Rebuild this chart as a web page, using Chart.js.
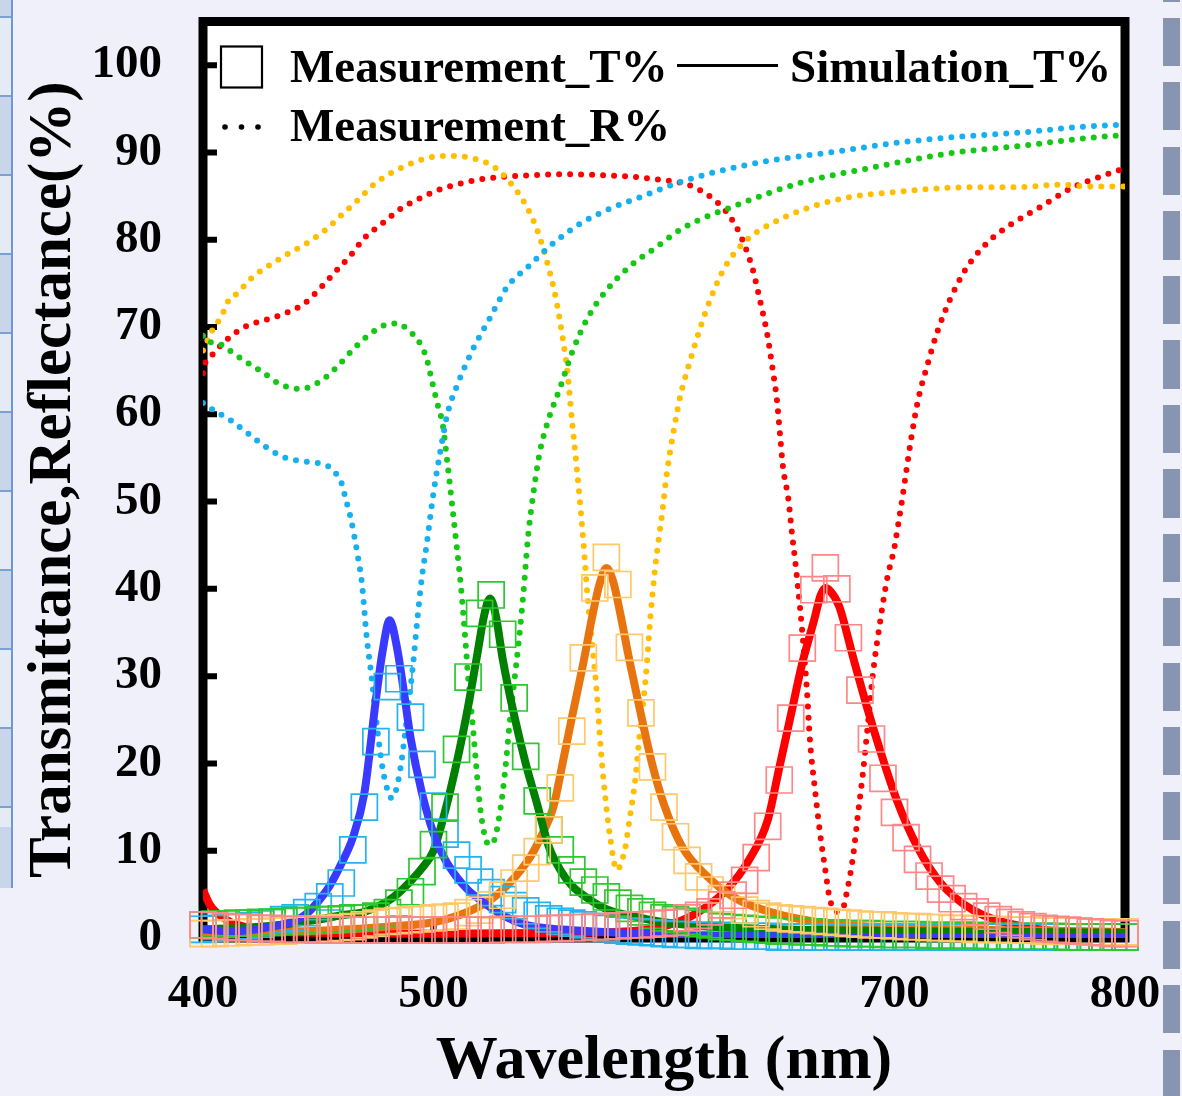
<!DOCTYPE html>
<html>
<head>
<meta charset="utf-8">
<script src="https://cdn.jsdelivr.net/npm/chart.js@4/dist/chart.umd.min.js"></script>
<style>
html,body{margin:0;padding:0;background:#f0f0fa;overflow:hidden;}
#wrap{position:absolute;left:0;top:0;width:1182px;height:1096px;}
#leftdeco{position:absolute;left:0;top:0;width:11px;height:888px;border-right:2px solid #6f98cf;
  background:repeating-linear-gradient(to bottom,#c9d5ea 0 77px,#7aa0d4 77px 79px,#e5ebf6 79px 156px,#7aa0d4 156px 158px);
  background-position:0 -61px;}
#rightdeco{position:absolute;left:1163px;top:0;width:17px;height:1096px;
  background:repeating-linear-gradient(to bottom,#8795b1 0 48px,transparent 48px 64.5px);
  background-position:0 18px;}
</style>
</head>
<body>
<div id="leftdeco"></div>
<div id="rightdeco"></div>
<div id="wrap"><canvas id="c"></canvas></div>
<script>
// ---------- Measured transmittance (squares), 5 nm grid ----------
const measWl = [400,405,410,415,420,425,430,435,440,445,
  450,455,460,465,470,475,480,485,490,495,
  500,505,510,515,520,525,530,535,540,545,
  550,555,560,565,570,575,580,585,590,595,
  600,605,610,615,620,625,630,635,640,645,
  650,655,660,665,670,675,680,685,690,695,
  700,705,710,715,720,725,730,735,740,745,
  750,755,760,765,770,775,780,785,790,795,
  800];
const measBlue = [1.0,1.1,1.2,1.3,1.4,1.6,1.8,2.1,2.3,2.9,
  3.6,4.7,6.3,10.1,15.0,22.5,28.8,29.7,25.3,19.9,
  15.1,11.9,9.5,7.8,6.4,5.2,4.4,3.7,3.1,2.6,
  2.2,1.9,1.7,1.5,1.3,1.1,0.9,0.8,0.7,0.6,
  0.5,0.4,0.4,0.3,0.3,0.3,0.2,0.2,0.2,0.2,
  0.1,0.1,0.1,0.1,0.1,0.1,0.1,0.1,0.1,0.1,
  0.1,0.1,0.1,0.1,0.1,0.1,0.1,0.1,0.1,0.1,
  0.1,0.1,0.1,0.1,0.1,0.1,0.1,0.1,0.1,0.1,
  0.1];
const measGreen = [1.5,1.6,1.6,1.7,1.7,1.8,1.8,1.9,2.0,2.0,
  2.1,2.1,2.2,2.3,2.3,2.5,2.9,4.0,5.3,7.6,
  10.7,15.0,21.6,29.9,37.2,39.3,34.8,27.5,20.8,15.7,
  12.4,10.1,7.8,6.4,5.5,4.7,4.0,3.4,3.0,2.6,
  2.3,2.1,1.9,1.7,1.5,1.3,1.2,1.1,1.0,0.9,
  0.8,0.8,0.7,0.7,0.6,0.6,0.5,0.5,0.5,0.4,
  0.4,0.4,0.4,0.3,0.3,0.3,0.3,0.3,0.2,0.2,
  0.2,0.2,0.2,0.2,0.2,0.1,0.1,0.1,0.1,0.1,
  0.1];
const measOrange = [0.5,0.5,0.6,0.6,0.7,0.7,0.8,0.8,0.9,1.0,
  1.0,1.1,1.2,1.3,1.5,1.7,1.9,2.0,2.1,2.2,
  2.3,2.4,2.5,2.9,3.2,3.8,4.9,6.3,8.0,9.9,
  12.4,17.2,23.7,32.1,40.1,43.6,40.5,33.3,25.8,19.6,
  15.0,11.6,8.9,7.0,5.5,4.5,3.7,3.2,2.8,2.5,
  2.3,2.2,2.1,2.0,1.9,1.8,1.7,1.6,1.5,1.5,
  1.4,1.3,1.3,1.2,1.2,1.1,1.1,1.0,1.0,1.0,
  0.9,0.9,0.9,0.8,0.8,0.8,0.8,0.7,0.7,0.7,
  0.7];
const measRed = [1.5,1.4,1.3,1.2,1.2,1.1,1.1,1.0,1.0,1.0,
  0.9,0.9,0.9,0.9,0.9,0.9,0.9,0.9,0.9,0.9,
  0.9,0.9,0.9,0.9,0.9,0.9,1.0,1.0,1.0,1.0,
  1.1,1.1,1.2,1.2,1.3,1.3,1.4,1.5,1.5,1.6,
  1.7,1.8,2.3,2.6,3.0,3.8,4.9,6.6,9.2,12.8,
  18.1,25.2,33.2,39.9,42.4,40.0,34.4,28.4,22.8,18.3,
  14.4,11.5,9.0,7.1,5.6,4.5,3.6,3.0,2.5,2.1,
  1.8,1.5,1.3,1.1,1.0,0.9,0.8,0.7,0.6,0.5,
  0.5];

// ---------- Simulated transmittance (solid lines) ----------
const simBlueWl = [400,410,420,430,440,445,450,455,460,465,470,475,478,481,484,487,490,495,500,505,510,515,520,530,540,550,560,580,600,650,700,800];
const simBlue   = [1.0,0.8,0.9,1.3,2.0,2.8,4.2,6.0,8.5,11.5,16.6,27.3,33.0,36.4,33.5,28.5,23.0,16.6,12.0,9.0,7.0,5.5,4.4,2.6,1.5,1.1,0.9,0.6,0.4,0.2,0.1,0.1];
const simGreenWl = [400,420,440,450,460,470,480,485,490,495,500,505,510,515,519,522,524.5,527,530,535,540,545,550,555,560,565,575,590,600,620,650,700,750,800];
const simGreen   = [1.0,1.2,1.7,2.1,2.6,3.0,4.2,5.2,6.5,8.0,10.0,14.5,20.0,26.5,32.5,37.0,38.9,37.0,32.0,25.5,20.0,15.3,10.5,7.8,6.0,4.9,3.3,2.3,1.8,1.3,1.0,0.8,0.7,0.6];
const simOrangeWl = [400,430,455,480,500,515,525,533,542,547,552,556,560,565,569,572,575,578,581,585,590,595,600,608,619,630,647,670,700,750,800];
const simOrange   = [0.6,0.7,0.9,1.3,1.8,3.0,4.4,6.3,9.3,11.8,15.0,20.0,25.2,31.5,37.0,40.5,42.4,40.8,37.2,31.8,25.6,19.8,15.3,10.4,7.0,4.7,2.9,1.7,1.2,0.9,0.7];
const simRedWl = [400,403,406,410,415,425,450,500,560,590,611,627,637,645,650,655,660,665,668,670,672,676,682,688,694,701,710,720,734,756,780,800];
const simRed   = [5.5,3.8,2.9,2.1,1.5,0.9,0.6,0.5,0.6,0.9,2.4,5.5,9.0,13.5,19.5,25.5,31.5,36.3,39.3,40.1,39.8,38.0,32.2,26.5,21.3,15.8,10.4,6.3,3.2,1.3,0.6,0.4];

// ---------- Measured reflectance (dotted lines) ----------
const rBlueWl = [400,405,412,420,427,435,444,450,454,457,460,462,464,467,469,471,473,475.5,478,480,482,484,486,488.5,491,493,495,497,500,503,506,511,517,524,532,541,552,564,577,590,607,626,647,672,701,728,756,779,800];
const rBlue   = [61.3,60.4,59.3,57.7,56.3,55.1,54.6,54.4,54.1,53.4,52.2,50.2,48.2,44.0,40.5,34.5,30.2,24.2,19.3,17.0,16.0,17.2,20.0,25.3,31.0,36.5,41.4,45.0,51.0,55.8,60.0,63.8,67.4,70.8,74.6,76.9,79.6,81.9,83.6,84.9,86.6,88.0,89.1,90.0,91.1,91.8,92.3,92.9,93.2];
const rGreenWl = [400,402,406,410,417,426,433,442,451,458,465,472,480,485,489,493,497,499,501.5,504,506,508,510,512,514,515,517,518.5,520,522,524,526,529,531,533,535,537,539,541,543,546,550,555,560,567,575,585,597,608,632,659,691,724,756,782,800];
const rGreen   = [69.0,68.3,68.2,67.6,66.3,64.8,63.5,62.9,63.8,65.4,67.4,69.1,70.3,70.4,69.6,68.6,66.4,64.2,61.4,58.8,54.5,49.8,45.0,40.0,33.5,29.9,24.5,19.8,15.5,12.0,10.7,11.0,14.7,19.0,24.5,29.3,34.0,39.5,45.9,50.3,55.5,59.5,63.1,67.0,71.1,74.2,76.9,79.2,81.3,84.0,86.5,88.3,89.9,90.8,91.6,92.0];
const rYellowWl = [400,402,404,406.5,409,411,415,421,429,437,445,453,460,467,474,482,491,500,509,519,527,534,540,545,549,553,556,558,560,561.5,563,565,567,569,571,572.5,574.5,576.6,579.5,583,585,587.5,589.6,592,594,596,598,599,601,604,607,610.5,615,620,626.5,636,647,662,679,702,730,753,772,785,800];
const rYellow   = [67.3,68.5,69.6,70.6,71.8,73.0,73.9,75.6,77.1,78.4,79.6,81.1,82.8,84.5,86.3,87.7,88.8,89.5,89.6,89.2,88.2,86.3,84.0,81.1,77.7,73.4,68.8,65.1,59.5,55.6,51.5,45.5,38.5,33.3,27.6,21.9,16.2,11.6,7.8,10.1,13.5,18.1,23.8,29.6,36.4,42.0,46.3,48.2,52.8,57.8,62.0,65.4,69.3,73.1,76.9,80.0,81.9,83.6,84.8,85.5,86.0,86.0,86.3,86.1,86.1];
const rRedWl = [400,401,404,407,411,418,427,436,444,451,458,464,470,478,486,493,502,511,520,530,543,558,572,587,597,606,614,623,629,634,638.6,641.6,644.7,647,649,650.3,651.6,654,655.5,657,658,659,660.3,662,663.3,665.5,667.7,669.8,672,675,677.5,679.5,682,684.2,686.3,688.5,690.7,693.7,696.7,700,701,703.3,705.4,707.6,710.2,714,718.4,724,730.6,740,751.4,763,777.4,789,800];
const rRed   = [64.7,65.9,66.8,67.7,68.7,70.0,70.8,71.6,72.7,74.5,76.5,78.2,80.2,81.9,83.6,84.6,85.7,86.4,86.9,87.2,87.4,87.5,87.4,87.2,86.9,86.6,85.9,84.3,82.5,80.0,76.5,73.1,69.3,65.4,61.6,57.8,54.0,50.2,46.4,43.0,40.5,37.9,34.1,28.4,22.7,17.0,12.0,8.1,4.4,3.0,3.3,5.5,9.3,14.3,18.9,24.6,30.4,36.1,41.0,44.8,46.4,50.2,54.0,57.8,61.6,65.4,69.3,73.1,76.5,79.6,81.9,83.7,86.0,87.2,88.2];

// ---------- Axis / legend text ----------
const xTitle = 'Wavelength (nm)';
const yTitle = 'Transmittance,Reflectance(%)';
const legendLabels = ['Measurement_T%', 'Simulation_T%', 'Measurement_R%'];

const SERIF = "'Liberation Serif','Times New Roman',serif";
function pts(xs, ys) { return xs.map((x, i) => ({x: x, y: ys[i]})); }

function measSet(ys, color, ord) {
  return {data: pts(measWl, ys), showLine: false, pointStyle: 'rect', pointRadius: 18.4,
    pointBorderColor: color, pointBackgroundColor: 'rgba(0,0,0,0)', pointBorderWidth: 1.7,
    clip: false, order: ord};
}
function simSet(xs, ys, color) {
  return {data: pts(xs, ys), borderColor: color, borderWidth: 8, pointRadius: 0,
    cubicInterpolationMode: 'monotone', fill: false, order: 1};
}
function reflSet(xs, ys, color) {
  return {data: pts(xs, ys), borderColor: color, borderWidth: 6, borderDash: [0, 11],
    borderCapStyle: 'round', pointRadius: 0, cubicInterpolationMode: 'monotone', fill: false, order: 2};
}

const decor = {
  id: 'decor',
  beforeDraw(chart) {
    const {ctx, chartArea: a} = chart;
    ctx.save();
    ctx.fillStyle = '#ffffff';
    ctx.fillRect(a.left, a.top, a.right - a.left, a.bottom - a.top);
    ctx.restore();
  },
  beforeDatasetsDraw(chart) {
    const {ctx, chartArea: a, scales} = chart;
    ctx.save();
    ctx.strokeStyle = '#000';
    ctx.lineWidth = 9;
    ctx.strokeRect(a.left, a.top, a.right - a.left, a.bottom - a.top);
    ctx.lineWidth = 6;
    ctx.beginPath();
    scales.y.ticks.forEach(t => {
      const y = scales.y.getPixelForValue(t.value);
      if (y < a.bottom - 6) { ctx.moveTo(a.left, y); ctx.lineTo(a.left + 14, y); }
    });
    scales.x.ticks.forEach(t => {
      const x = scales.x.getPixelForValue(t.value);
      if (x > a.left + 6 && x < a.right - 6) { ctx.moveTo(x, a.bottom); ctx.lineTo(x, a.bottom - 14); }
    });
    ctx.stroke();
    ctx.restore();
  },
  afterDraw(chart) {
    const {ctx, chartArea: a} = chart;
    const L = a.left, T = a.top;
    ctx.save();
    ctx.fillStyle = '#000';
    ctx.strokeStyle = '#000';
    ctx.font = 'bold 47px ' + SERIF;
    ctx.textBaseline = 'alphabetic';
    ctx.textAlign = 'left';
    ctx.lineWidth = 2.2;
    ctx.strokeRect(L + 18, T + 25, 41, 41);
    ctx.fillText(legendLabels[0], L + 87, T + 60);
    ctx.lineWidth = 3;
    ctx.beginPath();
    ctx.moveTo(L + 474, T + 44);
    ctx.lineTo(L + 575, T + 44);
    ctx.stroke();
    ctx.fillText(legendLabels[1], L + 587, T + 60);
    [22, 38.5, 55].forEach(dx => {
      ctx.beginPath();
      ctx.arc(L + dx, T + 105.5, 2.8, 0, Math.PI * 2);
      ctx.fill();
    });
    ctx.fillText(legendLabels[2], L + 87, T + 119);
    ctx.restore();
  }
};

new Chart(document.getElementById('c'), {
  type: 'line',
  data: {
    datasets: [
      measSet(measRed, 'rgb(255,135,135)', 0),
      measSet(measOrange, 'rgb(255,200,105)', 0.2),
      measSet(measGreen, 'rgb(45,200,45)', 0.3),
      measSet(measBlue, 'rgb(35,180,240)', 0.4),
      simSet(simBlueWl, simBlue, 'rgb(58,58,255)'),
      simSet(simGreenWl, simGreen, 'rgb(0,128,0)'),
      simSet(simOrangeWl, simOrange, 'rgb(232,116,16)'),
      simSet(simRedWl, simRed, 'rgb(255,0,0)'),
      reflSet(rBlueWl, rBlue, 'rgb(22,176,240)'),
      reflSet(rGreenWl, rGreen, 'rgb(20,200,20)'),
      reflSet(rYellowWl, rYellow, 'rgb(255,190,0)'),
      reflSet(rRedWl, rRed, 'rgb(255,0,0)')
    ]
  },
  options: {
    responsive: true,
    maintainAspectRatio: false,
    animation: false,
    events: [],
    layout: {padding: {top: 21.5, right: 57, bottom: 0, left: 0}},
    plugins: {legend: {display: false}, tooltip: {enabled: false}},
    scales: {
      x: {
        type: 'linear', min: 400, max: 800, position: 'bottom',
        grid: {display: true, drawOnChartArea: false, drawTicks: true, tickLength: 33, tickColor: 'rgba(0,0,0,0)'},
        border: {display: false},
        ticks: {stepSize: 100, color: '#000', padding: 0, maxRotation: 0, autoSkip: false,
          font: {family: SERIF, size: 47, weight: 'bold', lineHeight: 1}},
        title: {display: true, text: xTitle, color: '#000',
          font: {family: SERIF, size: 62, weight: 'bold', lineHeight: 1}, padding: {top: 0, bottom: 3}},
        afterFit(s) { s.height = 158; }
      },
      y: {
        type: 'linear', min: 0, max: 105,
        grid: {display: true, drawOnChartArea: false, drawTicks: true, tickLength: 40, tickColor: 'rgba(0,0,0,0)'},
        border: {display: false},
        ticks: {stepSize: 10, includeBounds: false, color: '#000', padding: 1,
          font: {family: SERIF, size: 47, weight: 'bold', lineHeight: 0.8}},
        title: {display: true, text: yTitle, color: '#000',
          font: {family: SERIF, size: 61, weight: 'bold', lineHeight: 1}, padding: {top: 24, bottom: 0}},
        afterFit(s) { s.width = 203; }
      }
    }
  },
  plugins: [decor]
});
</script>
</body>
</html>
